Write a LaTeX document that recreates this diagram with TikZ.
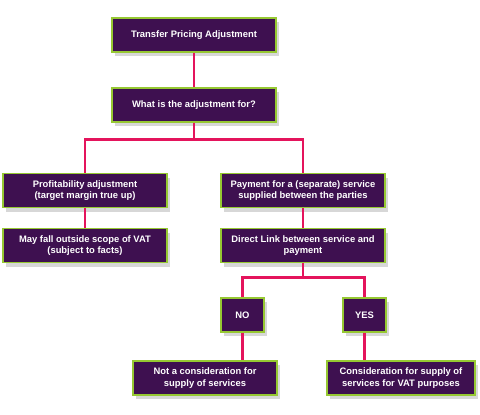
\documentclass[tikz,border=0pt]{standalone}
\usepackage{fontspec}
\setmainfont{Liberation Sans}
\usetikzlibrary{shadows}
\definecolor{boxfill}{RGB}{62,16,80}
\definecolor{boxedge}{RGB}{150,200,50}
\definecolor{linkred}{RGB}{228,20,92}
\tikzset{
  box/.style={draw=boxedge, line width=1.4pt, fill=boxfill, text=white,
    font=\bfseries\fontsize{9.4}{11.5}\selectfont, align=center, inner sep=0pt,
    minimum height=34pt,
    drop shadow={shadow xshift=3pt, shadow yshift=-4pt, fill=black!45, opacity=0.35}},
  link/.style={draw=linkred, line width=2.6pt}
}
\begin{document}
\begin{tikzpicture}[x=1pt,y=-1pt]
\useasboundingbox (0,0) rectangle (480,415);
\node[box, minimum width=164pt] (tpa) at (194,35) {Transfer Pricing Adjustment};
\node[box, minimum width=164pt] (what) at (194,105) {What is the adjustment for?};
\node[box, minimum width=164pt] (prof) at (85,190.5) {Profitability adjustment\\(target margin true up)};
\node[box, minimum width=164pt] (may) at (85,245.5) {May fall outside scope of VAT\\(subject to facts)};
\node[box, minimum width=164pt] (pay) at (303,190.5) {Payment for a (separate) service\\supplied between the parties};
\node[box, minimum width=164pt] (link) at (303,245.5) {Direct Link between service and\\payment};
\node[box, minimum width=43pt] (no) at (242.5,315) {NO};
\node[box, minimum width=43pt] (yes) at (364.5,315) {YES};
\node[box, minimum width=144pt] (notc) at (205,378) {Not a consideration for\\supply of services};
\node[box, minimum width=148pt] (cons) at (401,378) {Consideration for supply of\\services for VAT purposes};
\draw[link] (tpa.south) -- (what.north);
\draw[link] (what.south) -- ++(0,17) -| (prof.north);
\draw[link] (what.south) -- ++(0,17) -| (pay.north);
\draw[link] (prof.south) -- (may.north);
\draw[link] (pay.south) -- (link.north);
\draw[link] (link.south) -- ++(0,14) -| (no.north);
\draw[link] (link.south) -- ++(0,14) -| (yes.north);
\draw[link] (no.south) -- (no.south |- notc.north);
\draw[link] (yes.south) -- (yes.south |- cons.north);
\end{tikzpicture}
\end{document}
